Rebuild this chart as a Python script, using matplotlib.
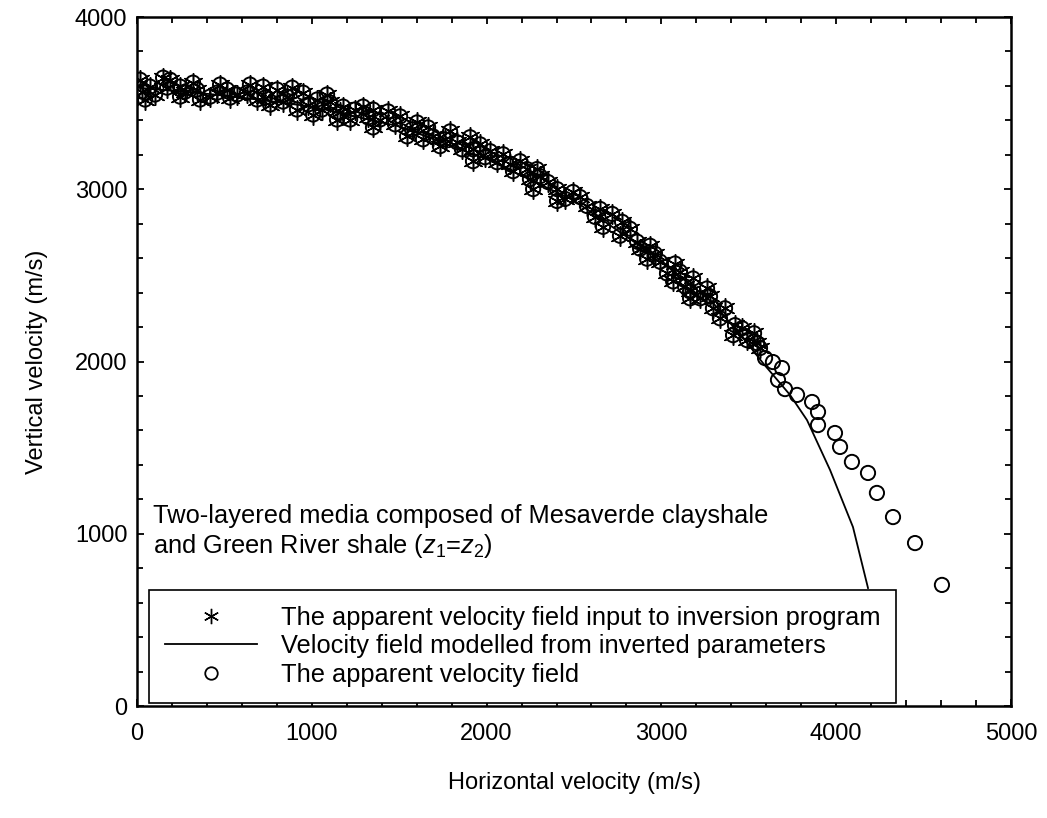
import matplotlib
matplotlib.use("Agg")
import matplotlib.pyplot as plt
from matplotlib.ticker import MultipleLocator
from matplotlib.lines import Line2D

plt.rcParams['font.family'] = ['Liberation Sans', 'DejaVu Sans']
plt.rcParams['mathtext.fontset'] = 'custom'
plt.rcParams['mathtext.rm'] = 'Liberation Sans'
plt.rcParams['mathtext.it'] = 'Liberation Sans:italic'

# apparent velocity field (m/s): band that is also used as inversion input
band_vh = [17, 29, 74, 149, 172, 246, 246, 320, 343, 418, 458, 515, 532, 629, 687,
           721, 761, 801, 858, 915, 950, 1007, 1030, 1104, 1144, 1179, 1219, 1293,
           1350, 1350, 1436, 1505, 1545, 1602, 1636, 1693, 1733, 1791, 1831, 1905,
           1922, 1922, 2020, 2060, 2134, 2151, 2231, 2288, 2306, 2266, 2403, 2494,
           2403, 2574, 2649, 2666, 2775, 2763, 2861, 2935, 2918, 2992, 3032, 3106,
           3181, 3261, 3067, 3164, 3164, 3278, 3295, 3335, 3421, 3410, 3490, 3547,
           3564,
           46, 103, 189, 275, 360, 475, 572, 646, 732, 835, 887, 978, 1058, 1087,
           1161, 1247, 1322, 1390, 1476, 1573, 1665, 1762, 1859, 1962, 1991, 2094,
           2191, 2248, 2351, 2449, 2534, 2620, 2718, 2820, 2878, 2963, 3078, 3135,
           3221, 3364, 3461, 3530]
band_vv = [3636, 3567, 3596, 3648, 3590, 3538, 3596, 3619, 3579, 3538, 3561, 3579,
           3532, 3561, 3521, 3596, 3492, 3579, 3538, 3463, 3561, 3434, 3521, 3504,
           3405, 3480, 3405, 3480, 3463, 3359, 3452, 3423, 3307, 3388, 3290, 3307,
           3250, 3336, 3273, 3302, 3232, 3163, 3221, 3157, 3146, 3105, 3117, 3117,
           3076, 3001, 3001, 2984, 2932, 2903, 2886, 2782, 2811, 2730, 2696, 2672,
           2597, 2580, 2511, 2522, 2482, 2424, 2465, 2407, 2367, 2378, 2309, 2251,
           2211, 2153, 2124, 2107, 2078,
           3521, 3550, 3636, 3567, 3521, 3608, 3550, 3608, 3532, 3509, 3590, 3492,
           3463, 3550, 3446, 3463, 3417, 3405, 3377, 3348, 3359, 3290, 3232, 3261,
           3186, 3203, 3163, 3059, 3042, 2944, 2955, 2840, 2857, 2771, 2655, 2626,
           2569, 2436, 2367, 2309, 2193, 2164]

# apparent velocity field beyond the inversion input
tail_vh = [3593, 3638, 3690, 3667, 3707, 3776, 3862, 3896, 3896, 3993, 4022, 4090,
           4182, 4233, 4325, 4451, 4605]
tail_vv = [2020, 1997, 1962, 1893, 1840, 1806, 1765, 1707, 1631, 1585, 1504, 1417,
           1353, 1237, 1097, 946, 703]

# velocity field modelled from inverted parameters
model_vh = [0, 500, 1000, 1500, 2000, 2500, 3000, 3300, 3490, 3581, 3736, 3833,
            3965, 4096, 4182]
model_vv = [3590, 3545, 3480, 3365, 3175, 2935, 2585, 2335, 2108, 1991, 1806, 1660,
            1370, 1039, 685]

fs = 17
fs_txt = 18.3
fig = plt.figure(figsize=(10.47, 8.18), dpi=100)
ax = fig.add_axes([0.1309, 0.1369, 0.8347, 0.8423])

star = (6, 2, 0)
ax.plot(model_vh, model_vv, color='black', lw=1.3, zorder=2)
ax.scatter(band_vh, band_vv, marker=star, s=200, color='black', linewidths=1.1, zorder=3)
ax.scatter(band_vh + tail_vh, band_vv + tail_vv, marker='o', s=105,
           facecolors='none', edgecolors='black', linewidths=1.4, zorder=3)

ax.set_xlim(0, 5000)
ax.set_ylim(0, 4000)
ax.xaxis.set_major_locator(MultipleLocator(1000))
ax.xaxis.set_minor_locator(MultipleLocator(200))
ax.yaxis.set_major_locator(MultipleLocator(1000))
ax.yaxis.set_minor_locator(MultipleLocator(200))
ax.tick_params(which='both', direction='in', top=True, right=True,
               width=1.3, labelsize=fs)
ax.tick_params(which='major', length=5)
ax.tick_params(which='minor', length=4)
ax.tick_params(axis='x', which='major', pad=12)
ax.tick_params(axis='y', which='major', pad=7)
for sp in ax.spines.values():
    sp.set_linewidth(1.8)

ax.set_xlabel('Horizontal velocity (m/s)', fontsize=fs, labelpad=20)
ax.set_ylabel('Vertical velocity (m/s)', fontsize=fs, labelpad=19)

ax.text(0.018, 0.293, 'Two-layered media composed of Mesaverde clayshale\n'
        r'and Green River shale ($\mathit{z_1}$=$\mathit{z_2}$)',
        transform=ax.transAxes, fontsize=fs_txt, va='top', ha='left', linespacing=1.2)

handles = [
    Line2D([], [], marker=star, ls='none', color='black', markersize=11, mew=1.0),
    Line2D([], [], color='black', lw=1.3),
    Line2D([], [], marker='o', ls='none', mfc='none', mec='black', markersize=9, mew=1.3),
]
labels = ['The apparent velocity field input to inversion program',
          'Velocity field modelled from inverted parameters',
          'The apparent velocity field']
leg = ax.legend(handles, labels, loc='lower left', bbox_to_anchor=(0.014, 0.005),
                borderaxespad=0, fontsize=fs_txt, frameon=True, fancybox=False,
                framealpha=1, edgecolor='black', handlelength=3.6,
                handletextpad=0.95, labelspacing=0.18, borderpad=0.62)
leg.get_frame().set_linewidth(1.2)

fig.savefig('out.png', dpi=100)
